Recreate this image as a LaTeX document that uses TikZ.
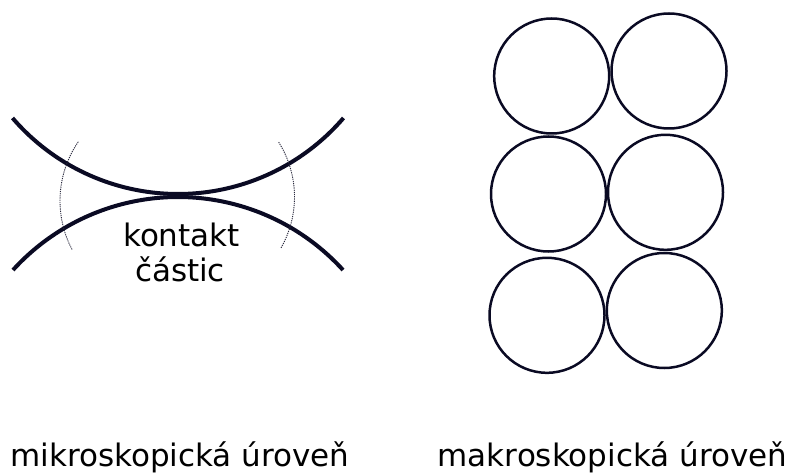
\documentclass[tikz,border=0pt]{standalone}
\usepackage{fontspec}
\setmainfont{DejaVu Sans}
\definecolor{ink}{RGB}{10,10,35}
\definecolor{dotink}{RGB}{40,40,60}
\tikzset{
  grain/.style={circle,draw=ink,line width=2.5pt,inner sep=0pt,minimum size=115pt},
  surface/.style={draw=ink,line width=4pt},
  zone/.style={draw=dotink,line width=0.9pt,dash pattern=on 1.2pt off 1pt},
  lbl/.style={font=\fontsize{31}{36}\selectfont,inner sep=0pt,anchor=base,text=black}
}
\begin{document}
\begin{tikzpicture}[x=1pt,y=1pt]
\useasboundingbox (0,0) rectangle (792,-473);
% microscopic contact
\draw[surface] (178,24.2) ++(220.67:218.2) arc[start angle=220.67,end angle=319.33,radius=218.2];
\draw[surface] (178,-420) ++(42.27:223) arc[start angle=42.27,end angle=137.73,radius=223];
\draw[zone] (164.5,-200.8) ++(145.6:104.5) arc[start angle=145.6,end angle=208.1,radius=104.5];
\draw[zone] (191.5,-197) ++(-29.6:103) arc[start angle=-29.6,end angle=32.2,radius=103];
\node[lbl] (k1) at (181.5,-246.7) {kontakt};
\node[lbl] (k2) at (180,-281.7) {částic};
% macroscopic grains
\node[grain] (c1) at (551.7,-76) {};
\node[grain] (c2) at (669,-71) {};
\node[grain] (c3) at (548.5,-194) {};
\node[grain] (c4) at (665.5,-192.3) {};
\node[grain] (c5) at (547,-315.3) {};
\node[grain] (c6) at (664.3,-310.5) {};
% captions
\node[lbl] (mik) at (180,-466.7) {mikroskopická úroveň};
\node[lbl] (mak) at (612.5,-466.7) {makroskopická úroveň};
\end{tikzpicture}
\end{document}
